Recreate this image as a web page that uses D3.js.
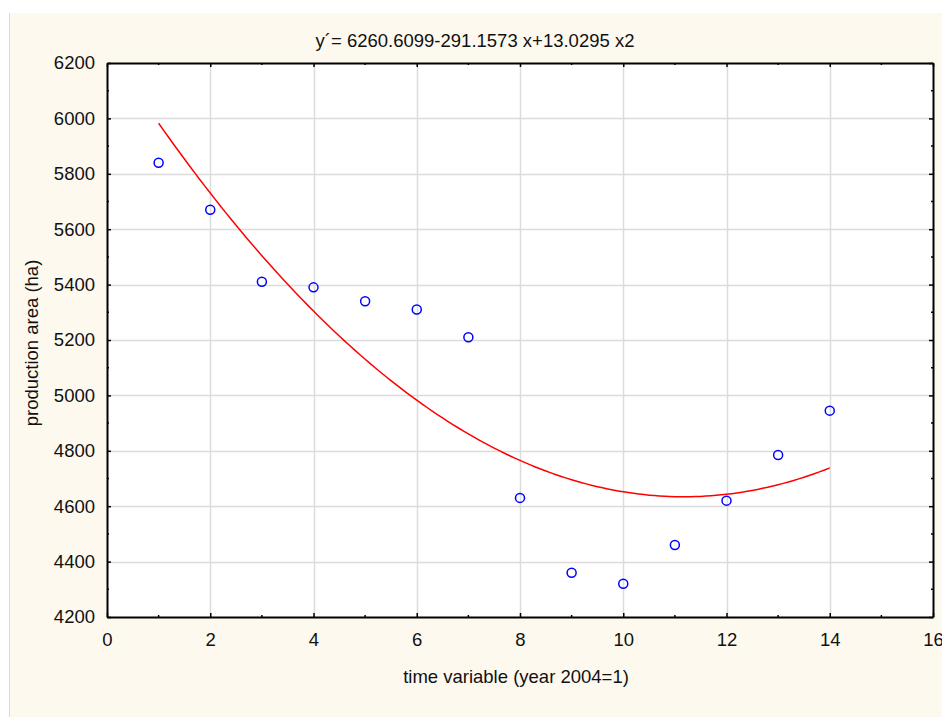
<!DOCTYPE html>
<html>
<head>
<meta charset="utf-8">
<script src="https://cdn.jsdelivr.net/npm/d3@7"></script>
<style>
  body { margin: 0; background: #fff; }
  svg text { font-family: "Liberation Sans", Arial, sans-serif; fill: #111; }
</style>
</head>
<body>
<div id="chart"></div>
<script>
// data
var years = [1, 2, 3, 4, 5, 6, 7, 8, 9, 10, 11, 12, 13, 14];
var area = [5840, 5670, 5410, 5390, 5340, 5310, 5210, 4630, 4360, 4320, 4460, 4620, 4785, 4945];

// fitted curve, coefficients as printed in the title
var fitCoef = [6260.6099, -291.1573, 13.0295];
var fitTitle = "y\u00B4= 6260.6099-291.1573 x+13.0295 x2";

var xTicks = [0, 2, 4, 6, 8, 10, 12, 14, 16];
var yTicks = [4200, 4400, 4600, 4800, 5000, 5200, 5400, 5600, 5800, 6000, 6200];

var W = 942, H = 717;
var margin = {top: 63, right: 9, bottom: 100, left: 107};
var width = W - margin.left - margin.right,
    height = H - margin.top - margin.bottom;
var fs = 18.5;

var svg = d3.select("#chart")
  .append("svg")
    .attr("width", W)
    .attr("height", H);

// cream panel with a yellow left edge
svg.append("rect")
  .attr("x", 9).attr("y", 13)
  .attr("width", W - 9).attr("height", H - 13)
  .attr("fill", "#fdf9ef");
svg.append("line")
  .attr("x1", 9.5).attr("x2", 9.5).attr("y1", 13).attr("y2", H)
  .attr("stroke", "#f2ea4a").attr("stroke-width", 1);

var g = svg.append("g")
  .attr("transform", "translate(" + margin.left + "," + margin.top + ")");

var x = d3.scaleLinear().domain([0, 16]).range([0, width]);
var y = d3.scaleLinear().domain([4200, 6200]).range([height, 0]);

g.append("rect")
  .attr("width", width).attr("height", height)
  .attr("fill", "#fff");

// grid
g.append("g")
  .selectAll("line.gx")
  .data(xTicks.slice(1, -1))
  .enter().append("line")
    .attr("x1", d => Math.round(x(d)) + 0.5).attr("x2", d => Math.round(x(d)) + 0.5)
    .attr("y1", 0).attr("y2", height)
    .attr("stroke", "#dcdcdc").attr("stroke-width", 1.5);
g.append("g")
  .selectAll("line.gy")
  .data(yTicks.slice(1, -1))
  .enter().append("line")
    .attr("y1", d => Math.round(y(d)) + 0.5).attr("y2", d => Math.round(y(d)) + 0.5)
    .attr("x1", 0).attr("x2", width)
    .attr("stroke", "#dcdcdc").attr("stroke-width", 1.5);

// axes, ticks pointing inward, minor ticks between
var minorX = d3.range(1, 16, 2);
var minorY = d3.range(4300, 6200, 200);

function styleAxis(sel) {
  sel.select(".domain").attr("stroke", "#000").attr("stroke-width", 2);
  sel.selectAll(".tick line").attr("stroke", "#000").attr("stroke-width", 1.5);
}

var xAxis = g.append("g")
  .attr("transform", "translate(0," + height + ")")
  .call(d3.axisBottom(x).tickValues(xTicks).tickFormat(d3.format("d"))
    .tickSizeInner(-4).tickSizeOuter(0).tickPadding(16));
styleAxis(xAxis);
xAxis.selectAll("text").attr("font-size", fs).attr("dy", "0.71em");

var yAxis = g.append("g")
  .call(d3.axisLeft(y).tickValues(yTicks).tickFormat(d3.format("d"))
    .tickSizeInner(-4).tickSizeOuter(0).tickPadding(12));
styleAxis(yAxis);
yAxis.selectAll("text").attr("font-size", fs);

var topAxis = g.append("g")
  .call(d3.axisTop(x).tickValues(xTicks).tickSizeInner(-4).tickSizeOuter(0).tickFormat(""));
styleAxis(topAxis);

var rightAxis = g.append("g")
  .attr("transform", "translate(" + width + ",0)")
  .call(d3.axisRight(y).tickValues(yTicks).tickSizeInner(-4).tickSizeOuter(0).tickFormat(""));
styleAxis(rightAxis);

// minor ticks
[[0, height, -1], [0, 0, 1]].forEach(function(p) {
  g.append("g").selectAll("line")
    .data(minorX).enter().append("line")
      .attr("x1", d => x(d)).attr("x2", d => x(d))
      .attr("y1", p[1]).attr("y2", p[1] + p[2] * 2)
      .attr("stroke", "#000").attr("stroke-width", 1.5);
});
[[0, 1], [width, -1]].forEach(function(p) {
  g.append("g").selectAll("line")
    .data(minorY).enter().append("line")
      .attr("y1", d => y(d)).attr("y2", d => y(d))
      .attr("x1", p[0]).attr("x2", p[0] + p[1] * 2)
      .attr("stroke", "#000").attr("stroke-width", 1.5);
});

// fitted curve
var curveX = d3.range(years[0], years[years.length - 1] + 0.001, 0.1);
var line = d3.line()
  .x(d => x(d))
  .y(d => y(fitCoef[0] + fitCoef[1] * d + fitCoef[2] * d * d));
g.append("path")
  .datum(curveX)
  .attr("d", line)
  .attr("fill", "none")
  .attr("stroke", "#ff0000")
  .attr("stroke-width", 1.5);

// points
g.append("g")
  .selectAll("circle")
  .data(years.map((d, i) => ({x: d, y: area[i]})))
  .enter().append("circle")
    .attr("cx", d => x(d.x))
    .attr("cy", d => y(d.y))
    .attr("r", 4.5)
    .attr("fill", "none")
    .attr("stroke", "#0000ff")
    .attr("stroke-width", 1.5);

// titles
svg.append("text")
  .attr("x", 475).attr("y", 47)
  .attr("text-anchor", "middle")
  .attr("font-size", fs)
  .text(fitTitle);

svg.append("text")
  .attr("x", 516).attr("y", 683)
  .attr("text-anchor", "middle")
  .attr("font-size", fs)
  .text("time variable (year 2004=1)");

svg.append("text")
  .attr("transform", "translate(38," + 343 + ") rotate(-90)")
  .attr("text-anchor", "middle")
  .attr("font-size", fs)
  .text("production area (ha)");
</script>
</body>
</html>
